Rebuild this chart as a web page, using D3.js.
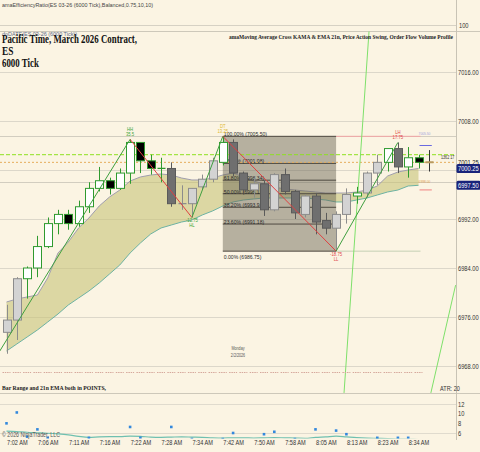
<!DOCTYPE html>
<html><head><meta charset="utf-8">
<script src="https://cdn.jsdelivr.net/npm/d3@7"></script>
<style>html,body{margin:0;padding:0;background:#fbf4e3;}svg{display:block;}</style>
</head><body><svg id="c" width="480" height="452"></svg>
<script>
// ---------- data ----------
const opens  = [6973.5,6975.5,6982.25,6984,6987.5,6991.25,6992.75,6991.25,6994,6997,6998.25,6997,6999.5,7004.5,7001.5,7000.25,7000.25,6994.5,6994.5,6997.25,6998.5,7001.25,7004.5,6999.5,6996.75,6997.75,6993.5,6999.25,6996.5,6992.75,6995.75,6991.75,6990.5,6992.75,6995.75,6996.25,6999.5,7001.25,7003.5,7000.5,7002,7001.25];
const highs  = [6978,6982.5,6984.25,6989.25,6992.25,6993.5,6993.5,6995,6998,7000.5,6998.75,7000.25,7005,7004.5,7002.5,7002,7001.25,6997.5,6997,6999.25,7002,7005.5,7005,6999.75,6998.75,6998.25,6999.5,7000.25,6996.75,6996,6996.25,6993,6993.25,6997,6997.25,6999.75,7002.5,7003.5,7004.5,7003.75,7002.5,7003.25];
const lows   = [6970,6972.25,6979,6982.5,6987.25,6989.5,6990.25,6990.75,6993,6996.5,6996,6996.75,6997.75,6999.5,6999.25,6998,6994,6993.5,6992.25,6996.75,6998,7000.75,6999,6996.25,6995.5,6992.5,6993.25,6996,6992,6992.25,6989.5,6989.5,6986.75,6991.25,6994.5,6995.5,6997.5,6999.75,6999.5,6998.75,7000.25,6999.75];
const closes = [6975.5,6982.25,6984,6987.5,6991.25,6992.75,6991.25,6994,6997,6998.25,6997,6999.5,7004.5,7001.5,7000.25,7000.25,6994.5,6994.5,6997,6998.5,7001.5,7004.5,6999.5,6996.75,6997.75,6993.5,6999.25,6996.5,6993,6995.75,6991.5,6990.5,6992.75,6996,6996.25,6999.5,7001.25,7003.5,7000.5,7002,7001.25,7001.25];
const barGroups = ["n","n","g","g","g","g","g","g","g","g","g","g","g","g","g","g","n","n","n","n","n","g","n","n","n","n","n","n","n","n","n","n","n","n","g","n","n","g","n","g","g","c"];

const kamaBand = [6978.45,6978.94,6979.27,6979.59,6982.37,6986.45,6988.24,6990.53,6992.16,6994.12,6995.59,6996.73,6998.2,6998.86,6999.18,6999.35,6999.18,6998.69,6998.37,6998.37,6998.69,6999.18,6999.51,6998.86,6998.2,6997.71,6997.22,6996.9,6996.73,6996.57,6996.41,6996.24,6996.24,6996.24,6996.41,6996.73,6997.39,6999.02,6999.67,7000,7000.25];
const emaBand  = [6970.45,6971.59,6972.73,6973.88,6975.18,6976.49,6977.96,6979.1,6980.24,6981.55,6983.02,6984.49,6986.45,6988.08,6989.55,6990.53,6991.02,6991.51,6991.84,6992.65,6993.31,6994.12,6994.78,6995.1,6995.27,6995.43,6995.43,6995.43,6995.43,6995.43,6995.27,6995.1,6994.78,6994.78,6995.1,6995.43,6995.92,6996.41,6996.73,6997.39,6997.5];

const rangeEma = [6.4,6.3,6.15,6.05,5.95,5.8,5.6,5.3,5.1,5.2,5.25,5.25,5.35,5.3,5.15,5.1,5.15,5.2,5.15,5.1,5.0,4.95,5.0,5.0,4.95,5.0,5.05,5.0,4.95,4.9,5.1,5.2,5.35,5.2,5.05,4.95,4.9,4.85,4.75,4.7,4.65];

const swingBars   = [-1, 12, 18, 21, 32, 38];
const swingPrices = [6969.5, 7005, 6992.25, 7005.5, 6986.75, 7004.5];
const swingTypes  = ["", "HH", "HL", "DT", "LL", "LH"];
const swingValues = ["", "35.5", "-12.75", "13.25", "-18.75", "17.75"];

const fibStartBar = 21, fibEndBar = 32, fibHigh = 7005.5, fibLow = 6986.75;
const fibLevels = [1, 0.764, 0.618, 0.5, 0.382, 0.236, 0];

const priceTicks = [6968, 6976, 6984, 6992, 7000, 7008, 7016];
const refLevels = [7005.5, 6998];
const greenLevel = 7002.5, lastPriceLevel = 7001.25;
const timeIdx = [1,4,7,10,13,16,19,22,25,28,31,34,37,40];
const timeLabels = ["7:02 AM","7:06 AM","7:11 AM","7:16 AM","7:22 AM","7:28 AM","7:34 AM","7:42 AM","7:50 AM","7:58 AM","8:05 AM","8:13 AM","8:23 AM","8:34 AM"];
const rangeTicks = [6, 8, 10, 12];
const projBarsA = [35.2, 32.77], projPricesA = [7022.7, 6963.6];
const projBarsB = [41.2, 43.6],  projPricesB = [6963.6, 6981.2];

// ---------- setup ----------
const SANS = "'Liberation Sans', Arial, sans-serif";
const SERIF = "'Liberation Serif', 'Times New Roman', serif";
const W = 480, H = 452, AX = 456;
const svg = d3.select('#c');
svg.append('rect').attr('width', W).attr('height', H).attr('fill', '#fbf4e3');

const x = d3.scaleLinear().domain([0, 41]).range([6.5, 428.8]);
const y = d3.scaleLinear().domain([6968, 7016]).range([366, 72]);
const yb = d3.scaleLinear().domain([6, 12]).range([433, 404]);

const defs = svg.append('defs');
defs.append('clipPath').attr('id', 'mainClip').append('rect').attr('x', 0).attr('y', 31.5).attr('width', AX).attr('height', 361.5);
defs.append('clipPath').attr('id', 'botClip').append('rect').attr('x', 0).attr('y', 394).attr('width', AX).attr('height', 44.5);

function label(sel, px, py, s, o = {}) {
  const sx = o.len ? 1 : (o.sx || 0.82);
  const g = sel.append('g').attr('transform', `translate(${px},${py}) scale(${sx},1)`);
  const t = g.append('text').attr('font-family', o.fam || SANS).attr('font-size', o.size || 7)
    .attr('fill', o.fill || '#333').attr('text-anchor', o.anchor || 'start')
    .attr('font-weight', o.weight || 'normal').text(s);
  if (o.len) t.attr('textLength', o.len).attr('lengthAdjust', 'spacingAndGlyphs');
  return t;
}
const fmt2 = p => (Math.round(p * 100 + 1e-6) / 100).toFixed(2);

// ---------- panel frames ----------
const frame = svg.append('g');
frame.append('line').attr('x1', 0).attr('x2', AX).attr('y1', 25.5).attr('y2', 25.5).attr('stroke', '#d6d1c4');
[31.5, 393.5].forEach(v => frame.append('line').attr('x1', 0).attr('x2', W).attr('y1', v).attr('y2', v).attr('stroke', '#cdc8ba'));
[12, 6].forEach(v => frame.append('line').attr('x1', 0).attr('x2', AX).attr('y1', Math.round(yb(v)) + 0.5).attr('y2', Math.round(yb(v)) + 0.5).attr('stroke', '#e0dbce'));
frame.append('line').attr('x1', AX + 0.5).attr('x2', AX + 0.5).attr('y1', 0).attr('y2', 440).attr('stroke', '#c8c3b5');
label(svg, 459, 27.5, "100", {size: 7});

// ---------- main panel ----------
const main = svg.append('g').attr('clip-path', 'url(#mainClip)');
priceTicks.forEach(p => main.append('line').attr('x1', 0).attr('x2', AX).attr('y1', Math.round(y(p)) + 0.5).attr('y2', Math.round(y(p)) + 0.5).attr('stroke', '#dcd7ca'));
refLevels.forEach(p => main.append('line').attr('x1', 0).attr('x2', AX).attr('y1', Math.round(y(p)) + 0.5).attr('y2', Math.round(y(p)) + 0.5).attr('stroke', '#d2cdc0'));

// band
const idx = d3.range(kamaBand.length);
main.append('path').datum(idx).attr('fill', '#c8c378').attr('fill-opacity', 0.6)
  .attr('d', d3.area().x(i => x(i)).y0(i => y(emaBand[i])).y1(i => y(kamaBand[i])));
main.append('path').datum(idx).attr('fill', 'none').attr('stroke', '#a09eae').attr('stroke-width', 1)
  .attr('d', d3.line().x(i => x(i)).y(i => y(kamaBand[i])));
main.append('path').datum(idx).attr('fill', 'none').attr('stroke', '#6db3a3').attr('stroke-width', 1)
  .attr('d', d3.line().x(i => x(i)).y(i => y(emaBand[i])));

// fib box
const fx0 = x(fibStartBar), fx1 = x(fibEndBar);
main.append('rect').attr('x', fx0).attr('y', y(fibHigh)).attr('width', fx1 - fx0).attr('height', y(fibLow) - y(fibHigh))
  .attr('fill', '#6b6656').attr('fill-opacity', 0.48);
main.append('line').attr('x1', fx1).attr('x2', x(40) + 2).attr('y1', y(fibHigh)).attr('y2', y(fibHigh)).attr('stroke', '#f2a5a5');
main.append('line').attr('x1', fx1).attr('x2', x(40) + 2).attr('y1', y(fibLow)).attr('y2', y(fibLow)).attr('stroke', '#c4d0b4');
fibLevels.forEach(l => {
  const p = fibLow + l * (fibHigh - fibLow);
  const yy = y(p);
  main.append('line').attr('x1', fx0).attr('x2', fx1).attr('y1', yy).attr('y2', yy).attr('stroke', '#4f4a40').attr('stroke-width', 1);
  label(main, fx0 + 1, l === 0 ? yy + 8 : yy, `${(l * 100).toFixed(2)}% (${fmt2(p)})`, {size: 6, fill: '#2a2a2a', sx: 0.85});
});

// dashed levels
main.append('line').attr('x1', 0).attr('x2', AX).attr('y1', y(greenLevel)).attr('y2', y(greenLevel))
  .attr('stroke', '#8ee020').attr('stroke-dasharray', '4,2');
main.append('line').attr('x1', 0).attr('x2', AX).attr('y1', y(lastPriceLevel)).attr('y2', y(lastPriceLevel))
  .attr('stroke', '#e6ad5c').attr('stroke-dasharray', '2,2');

// projection lines
[[projBarsA, projPricesA], [projBarsB, projPricesB]].forEach(([bs, ps]) => {
  main.append('line').attr('x1', x(bs[0])).attr('y1', y(ps[0])).attr('x2', x(bs[1])).attr('y2', y(ps[1]))
    .attr('stroke', '#7ee06a').attr('stroke-width', 1);
});

// candles
const GREEN = '#2f9a2f';
opens.forEach((o, i) => {
  const c = closes[i], g = barGroups[i], up = c >= o;
  let fill, stroke, wick;
  if (g === 'g') { fill = up ? '#ffffff' : '#000000'; stroke = GREEN; wick = GREEN; }
  else if (g === 'n') { fill = up ? '#d3d3d3' : '#6f6f6f'; stroke = up ? '#8c8c8c' : '#5a5a5a'; wick = stroke; }
  else { fill = 'none'; stroke = '#b89a60'; wick = '#333'; }
  const cx = Math.round(x(i)) + 0.5;
  main.append('line').attr('x1', cx).attr('x2', cx).attr('y1', y(highs[i])).attr('y2', y(lows[i])).attr('stroke', wick);
  const top = y(Math.max(o, c)), bot = y(Math.min(o, c));
  if (g === 'c') {
    main.append('line').attr('x1', cx - 4).attr('x2', cx + 4).attr('y1', top).attr('y2', top).attr('stroke', stroke).attr('stroke-width', 2);
  } else if (bot - top < 1) {
    main.append('line').attr('x1', cx - 4).attr('x2', cx + 4).attr('y1', top).attr('y2', top).attr('stroke', stroke).attr('stroke-width', 1.2);
  } else {
    main.append('rect').attr('x', cx - 4).attr('y', top).attr('width', 8).attr('height', bot - top)
      .attr('fill', fill).attr('stroke', stroke).attr('stroke-width', 1);
  }
});

// zigzag
for (let k = 0; k < swingBars.length - 1; k++) {
  const upSeg = swingPrices[k + 1] > swingPrices[k];
  main.append('line').attr('x1', x(swingBars[k])).attr('y1', y(swingPrices[k]))
    .attr('x2', x(swingBars[k + 1])).attr('y2', y(swingPrices[k + 1]))
    .attr('stroke', upSeg ? '#3f9f3f' : '#e04040').attr('stroke-width', 1);
}
const swingColor = {HH: '#3aa53a', HL: '#3aa53a', DT: '#e0b830', LH: '#e04a4a', LL: '#e04a4a'};
swingTypes.forEach((t, k) => {
  if (!t) return;
  const isHigh = t === 'HH' || t === 'DT' || t === 'LH';
  const px = x(swingBars[k]), py = y(swingPrices[k]);
  const col = swingColor[t];
  if (isHigh) {
    label(main, px, py - 8, t, {size: 5, fill: col, anchor: 'middle', sx: 0.85});
    label(main, px, py - 3, swingValues[k], {size: 5, fill: col, anchor: 'middle', sx: 0.85});
  } else {
    label(main, px, py + 5, swingValues[k], {size: 5, fill: col, anchor: 'middle', sx: 0.85});
    label(main, px, py + 10, t, {size: 5, fill: col, anchor: 'middle', sx: 0.85});
  }
});

// volume row
d3.range(41).forEach(i => main.append('line').attr('x1', x(i) - 4).attr('x2', x(i) + 4).attr('y1', 372.5).attr('y2', 372.5)
  .attr('stroke', '#d6a89c').attr('stroke-dasharray', '1.5,0.8'));

// right-side markers
main.append('line').attr('x1', x(40) + 1).attr('x2', x(41) + 3).attr('y1', y(7004)).attr('y2', y(7004)).attr('stroke', '#6a6ae0');
main.append('line').attr('x1', x(40) + 1).attr('x2', x(41) + 3).attr('y1', y(6996.75)).attr('y2', y(6996.75)).attr('stroke', '#f08080');
label(main, x(40) + 6, y(7005.5) - 1, "7005.50", {size: 4, fill: '#a0a0e0', anchor: 'middle'});
label(main, x(40) + 6, y(6998) + 1, "6998.00", {size: 4, fill: '#e0a050', anchor: 'middle'});
label(main, 441, 159, "1362  17", {size: 4.5, fill: '#333'});

// date
label(svg, 238, 350, "Monday", {size: 4.5, fill: '#555', anchor: 'middle'});
label(svg, 238, 357, "2/2/2026", {size: 4.5, fill: '#555', anchor: 'middle'});

// price axis
const shownTicks = priceTicks.filter(p => Math.abs(y(p) - y(lastPriceLevel)) > 8);
const ax = svg.append('g').attr('transform', `translate(${AX},0)`)
  .call(d3.axisRight(y).tickValues(shownTicks).tickFormat(d3.format('.2f')).tickSize(0).tickPadding(2));
ax.select('.domain').remove();
ax.selectAll('text').attr('font-family', SANS).attr('font-size', 7).attr('fill', '#333')
  .attr('x', 2 / 0.82).attr('transform', 'scale(0.82,1)');

// price markers
label(svg, 458, y(lastPriceLevel) + 2.5, fmt2(lastPriceLevel), {size: 7, fill: '#222'});
[kamaBand[kamaBand.length - 1], emaBand[emaBand.length - 1]].forEach(p => {
  svg.append('rect').attr('x', AX + 0.5).attr('y', y(p) - 4.5).attr('width', W - AX).attr('height', 9).attr('rx', 1.5).attr('fill', '#18237a');
  label(svg, 458, y(p) + 2.5, fmt2(p), {size: 7, fill: '#ffffff'});
});

// ---------- bottom panel ----------
const bot = svg.append('g').attr('clip-path', 'url(#botClip)');
const ranges = highs.map((h, i) => h - lows[i]);
bot.append('path').datum(d3.range(rangeEma.length)).attr('fill', 'none').attr('stroke', '#6fc0b0').attr('stroke-width', 1.2)
  .attr('d', d3.line().x(i => x(i)).y(i => yb(rangeEma[i])).curve(d3.curveMonotoneX));
ranges.forEach((r, i) => bot.append('rect').attr('x', x(i) - 1.3).attr('y', yb(r) - 1.3).attr('width', 2.6).attr('height', 2.6).attr('fill', '#3388dd'));
const bax = svg.append('g').attr('transform', `translate(${AX},0)`)
  .call(d3.axisRight(yb).tickValues(rangeTicks).tickFormat(d3.format('d')).tickSize(0).tickPadding(2));
bax.select('.domain').remove();
bax.selectAll('text').attr('font-family', SANS).attr('font-size', 7).attr('fill', '#333')
  .attr('x', 2 / 0.82).attr('transform', 'scale(0.82,1)');

// time axis
const tax = svg.append('g').attr('transform', 'translate(0,437)')
  .call(d3.axisBottom(x).tickValues(timeIdx).tickFormat((d, i) => timeLabels[i]).tickSize(0).tickPadding(3));
tax.select('.domain').remove();
tax.selectAll('text').attr('font-family', SANS).attr('font-size', 7).attr('fill', '#333').attr('transform', 'scale(0.8,1)');

// ---------- texts ----------
label(svg, 2, 7, "amaEfficiencyRatio(ES 03-26 (6000 Tick),Balanced,0.75,10,10)", {size: 5, fill: '#444', len: 151});
label(svg, 2, 36, "doDATE(ES 03-26 (6000 Tick))", {size: 4.5, fill: '#5a6a8a', len: 75});
label(svg, 2, 43, "Pacific Time, March 2026 Contract,", {size: 12, fam: SERIF, weight: 'bold', fill: '#111', len: 135});
label(svg, 2, 55, "ES", {size: 12, fam: SERIF, weight: 'bold', fill: '#111', sx: 0.78});
label(svg, 2, 67, "6000 Tick", {size: 12, fam: SERIF, weight: 'bold', fill: '#111', sx: 0.74});
label(svg, 229, 38.5, "amaMoving Average Cross KAMA & EMA 21n, Price Action Swing, Order Flow Volume Profile", {size: 6, fam: SERIF, weight: 'bold', fill: '#222', len: 224});
label(svg, 2, 389.5, "Bar Range and 21n EMA  both in POINTS,", {size: 5.5, fam: SERIF, weight: 'bold', fill: '#222', len: 104});
label(svg, 440, 390.5, "ATR: 20", {size: 6.5, fill: '#333', sx: 0.85});
label(svg, 2, 437, "\u00A9 2026 NinjaTrader, LLC", {size: 6.5, fill: '#555', len: 58});
</script></body></html>
